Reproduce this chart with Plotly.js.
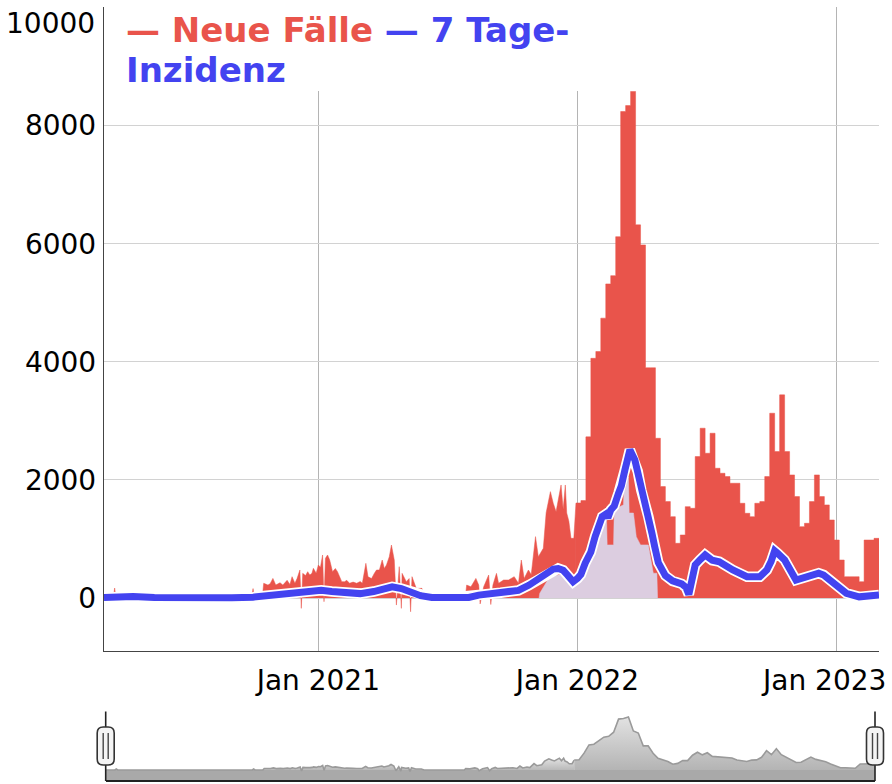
<!DOCTYPE html>
<html>
<head>
<meta charset="utf-8">
<script src="https://cdn.plot.ly/plotly-3.0.1.min.js"></script>
<style>html,body{margin:0;padding:0;background:#fff;}#chart{width:892px;height:784px;}</style>
</head>
<body>
<div id="chart"></div>
<script>
// ---------------- DATA ----------------
// Neue Fälle, part 1 (daily-ish, 2020 – Dec 2021)
const casesDatesA = ['2020-03-05','2020-03-18','2020-03-20','2020-03-22','2020-09-29','2020-10-01','2020-10-03','2020-10-14','2020-10-16','2020-10-22','2020-10-25','2020-10-29','2020-11-02','2020-11-08','2020-11-12','2020-11-18','2020-11-22','2020-11-25','2020-11-29','2020-12-02','2020-12-06','2020-12-08','2020-12-10','2020-12-14','2020-12-17','2020-12-20','2020-12-23','2020-12-25','2020-12-29','2021-01-01','2021-01-04','2021-01-07','2021-01-09','2021-01-11','2021-01-14','2021-01-17','2021-01-21','2021-01-25','2021-01-28','2021-02-01','2021-02-03','2021-02-07','2021-02-10','2021-02-14','2021-02-19','2021-02-24','2021-03-01','2021-03-04','2021-03-09','2021-03-12','2021-03-17','2021-03-21','2021-03-24','2021-03-28','2021-04-01','2021-04-04','2021-04-07','2021-04-11','2021-04-14','2021-04-18','2021-04-21','2021-04-25','2021-04-28','2021-04-29','2021-05-05','2021-05-09','2021-05-11','2021-05-13','2021-05-19','2021-05-27','2021-05-31','2021-07-27','2021-07-29','2021-08-04','2021-08-11','2021-08-15','2021-08-17','2021-08-22','2021-08-29','2021-09-01','2021-09-04','2021-09-09','2021-09-12','2021-09-19','2021-09-26','2021-10-04','2021-10-10','2021-10-14','2021-10-18','2021-10-24','2021-10-28','2021-11-03','2021-11-07','2021-11-14','2021-11-18','2021-11-24','2021-11-28','2021-12-02','2021-12-09','2021-12-12','2021-12-15','2021-12-17','2021-12-20','2021-12-23','2021-12-27','2021-12-30'];
const casesValuesA = [0,0,170,0,0,160,0,0,250,220,240,333,220,260,220,300,230,362,250,330,475,-175,418,380,446,390,418,503,420,559,520,729,-62,672,729,644,446,500,446,330,277,277,300,250,270,250,280,250,588,360,330,420,475,475,644,500,560,700,898,644,-119,531,-175,418,277,330,-232,362,164,164,0,0,220,190,333,220,-100,192,390,-110,220,418,250,305,305,362,250,644,330,475,400,1040,700,842,1446,1802,1605,1463,1915,1500,1915,1440,1300,1011,1011,1610];

// Neue Fälle, part 2 (weekly steps, Dec 2021 – Mar 2023)
const casesDatesB = ['2021-12-30','2022-01-06','2022-01-13','2022-01-20','2022-01-27','2022-02-03','2022-02-10','2022-02-17','2022-02-24','2022-03-03','2022-03-10','2022-03-17','2022-03-24','2022-03-31','2022-04-07','2022-04-14','2022-04-21','2022-04-28','2022-05-05','2022-05-12','2022-05-19','2022-05-26','2022-06-02','2022-06-09','2022-06-16','2022-06-23','2022-06-30','2022-07-07','2022-07-14','2022-07-21','2022-07-28','2022-08-04','2022-08-11','2022-08-18','2022-08-25','2022-09-01','2022-09-08','2022-09-15','2022-09-22','2022-09-29','2022-10-06','2022-10-13','2022-10-20','2022-10-27','2022-11-03','2022-11-10','2022-11-17','2022-11-24','2022-12-01','2022-12-08','2022-12-15','2022-12-22','2022-12-29','2023-01-05','2023-01-12','2023-01-19','2023-01-26','2023-02-02','2023-02-09','2023-02-16','2023-02-23','2023-03-02'];
const casesValuesB = [1610,1650,2730,4060,4175,4740,5320,5460,6120,8240,8340,8580,6320,5980,3900,3900,2706,1887,1633,1378,927,1068,1548,1520,2396,2876,2452,2791,2198,2113,2057,1944,1944,1605,1435,1378,1605,1633,2057,3130,2480,3441,2480,2085,1718,1209,1266,1633,2085,1718,1577,1322,983,644,361,361,361,277,983,983,1011,1011];

// shaded area under the incidence line (early 2022)
const shadeDates = ['2021-11-08','2021-11-09','2021-11-20','2021-12-01','2021-12-10','2021-12-20','2021-12-27','2022-01-10','2022-01-24','2022-02-07','2022-02-11','2022-02-12','2022-02-21','2022-02-22','2022-03-07','2022-03-08','2022-03-14','2022-03-15','2022-03-21','2022-03-25','2022-03-31','2022-04-11','2022-04-18','2022-04-23','2022-04-24'];
const shadeValues = [0,80,300,380,400,300,220,520,950,1300,1380,900,900,1500,1580,2050,2050,1440,1440,1040,900,900,420,420,0];

// 7 Tage-Inzidenz
const incDates = ['2020-03-05','2020-03-25','2020-04-15','2020-05-15','2020-07-01','2020-09-01','2020-10-01','2020-10-20','2020-11-10','2020-12-01','2020-12-20','2021-01-05','2021-01-20','2021-02-10','2021-03-01','2021-03-20','2021-04-05','2021-04-15','2021-04-28','2021-05-10','2021-05-25','2021-06-10','2021-07-01','2021-08-01','2021-08-15','2021-09-15','2021-10-10','2021-10-25','2021-11-05','2021-11-18','2021-11-28','2021-12-05','2021-12-12','2021-12-18','2021-12-26','2022-01-01','2022-01-06','2022-01-12','2022-01-20','2022-01-26','2022-02-01','2022-02-05','2022-02-10','2022-02-13','2022-02-17','2022-02-22','2022-02-28','2022-03-04','2022-03-09','2022-03-16','2022-03-23','2022-03-27','2022-04-01','2022-04-06','2022-04-11','2022-04-16','2022-04-20','2022-04-25','2022-05-05','2022-05-15','2022-05-28','2022-06-03','2022-06-07','2022-06-12','2022-06-16','2022-06-23','2022-06-30','2022-07-10','2022-07-20','2022-08-08','2022-08-28','2022-09-15','2022-09-25','2022-10-01','2022-10-06','2022-10-10','2022-10-20','2022-11-05','2022-11-23','2022-12-07','2022-12-14','2022-12-28','2023-01-15','2023-02-02','2023-02-20','2023-03-02'];
const incValues = [10,30,25,10,0,5,15,40,75,90,115,130,110,80,75,110,150,190,160,110,40,10,0,10,50,90,130,220,300,400,490,500,470,390,275,330,400,590,780,1040,1250,1380,1420,1360,1490,1560,1775,1900,2170,2510,2340,2150,1830,1650,1380,1100,870,600,380,290,240,180,60,400,560,650,730,640,615,475,360,360,475,620,800,760,645,305,360,420,390,250,80,20,50,50];

// axis labels
const yTickVals = [0,2000,4000,6000,8000,10000];
const yTickText = ['0','2000','4000','6000','8000',''];
const yTopLabel = '10000';
const xTickVals = ['2021-01-01','2022-01-01','2023-01-01'];
const xTickText = ['Jan 2021','Jan 2022',''];
const xLastLabel = 'Jan 2023';
const legendRed = '— Neue Fälle';
const legendBlue1 = '— 7 Tage-';
const legendBlue2 = 'Inzidenz';

// ---------------- STYLE ----------------
const RED = '#e9544b';
const BLUE = '#4343f0';
const W = 892, H = 784;
const M = {l:104, r:13, t:7, b:4};
const PW = W - M.l - M.r, PH = H - M.t - M.b;
const px = x => (x - M.l) / PW;          // pixel -> paper x
const py = y => (H - M.b - y) / PH;      // pixel -> paper y
const FONT = 'DejaVu Sans';

const traces = [
  {x: casesDatesA, y: casesValuesA, type:'scatter', mode:'lines', fill:'tozeroy',
   fillcolor: RED, line:{color:RED, width:0.5}, xaxis:'x', yaxis:'y', hoverinfo:'skip'},
  {x: casesDatesB, y: casesValuesB, type:'scatter', mode:'lines', fill:'tozeroy',
   fillcolor: RED, line:{color:RED, width:0.5, shape:'hv'}, xaxis:'x', yaxis:'y', hoverinfo:'skip'},
  {x: shadeDates, y: shadeValues, type:'scatter', mode:'lines', fill:'tozeroy',
   fillcolor:'#dccde0', line:{color:'#dccde0', width:0.5}, xaxis:'x', yaxis:'y', hoverinfo:'skip'},
  {x: incDates, y: incValues, type:'scatter', mode:'lines',
   line:{color:'#ffffff', width:10.5}, xaxis:'x', yaxis:'y', hoverinfo:'skip'},
  {x: incDates, y: incValues, type:'scatter', mode:'lines',
   line:{color:BLUE, width:7}, xaxis:'x', yaxis:'y', hoverinfo:'skip'},
  // range selector mini plot
  {x: casesDatesA, y: casesValuesA, type:'scatter', mode:'lines', fill:'tozeroy',
   fillcolor:'#c8c8c8', fillgradient:{type:'vertical', colorscale:[[0,'#b4b4b4'],[1,'#e2e2e2']]},
   line:{color:'#9a9a9a', width:1.6}, xaxis:'x2', yaxis:'y2', hoverinfo:'skip'},
  {x: casesDatesB, y: casesValuesB, type:'scatter', mode:'lines', fill:'tozeroy',
   fillcolor:'#c8c8c8', fillgradient:{type:'vertical', colorscale:[[0,'#b4b4b4'],[1,'#e2e2e2']]},
   line:{color:'#9a9a9a', width:1.6}, xaxis:'x2', yaxis:'y2', hoverinfo:'skip'}
];

function roundRect(x0, x1, y0, y1, r) {
  const rx = r / PW, ry = r / PH;
  const X0 = px(x0), X1 = px(x1), Yt = py(y0), Yb = py(y1);
  return `M ${X0+rx},${Yt} L ${X1-rx},${Yt} Q ${X1},${Yt} ${X1},${Yt-ry} L ${X1},${Yb+ry} Q ${X1},${Yb} ${X1-rx},${Yb} L ${X0+rx},${Yb} Q ${X0},${Yb} ${X0},${Yb+ry} L ${X0},${Yt-ry} Q ${X0},${Yt} ${X0+rx},${Yt} Z`;
}

const handleXs = [105.7, 875];
const shapes = [
  {type:'rect', xref:'paper', yref:'paper', x0:px(124), x1:px(732), y0:py(91), y1:py(-2),
   fillcolor:'#ffffff', line:{width:0}, layer:'above'},
  {type:'rect', xref:'paper', yref:'y2', x0:px(105.7), x1:px(875), y0:-1619, y1:0,
   fillcolor:'#a9a9a9', line:{width:0}, layer:'below'}
];
handleXs.forEach(hx => {
  shapes.push({type:'line', xref:'paper', yref:'paper', x0:px(hx), x1:px(hx), y0:py(711.5), y1:py(781),
    line:{color:'#222', width:1.6}, layer:'above'});
  shapes.push({type:'path', xref:'paper', yref:'paper', path: roundRect(hx-8.5, hx+8.5, 727, 765, 6),
    fillcolor:'#f4f4f4', line:{color:'#333', width:1.6}, layer:'above'});
  shapes.push({type:'line', xref:'paper', yref:'paper', x0:px(hx-2.5), x1:px(hx-2.5), y0:py(733), y1:py(759),
    line:{color:'#444', width:1.4}, layer:'above'});
  shapes.push({type:'line', xref:'paper', yref:'paper', x0:px(hx+2.5), x1:px(hx+2.5), y0:py(733), y1:py(759),
    line:{color:'#444', width:1.4}, layer:'above'});
});

const layout = {
  width: W, height: H,
  margin: M,
  paper_bgcolor:'#ffffff', plot_bgcolor:'#ffffff',
  showlegend:false,
  font:{family:FONT, size:28, color:'#000'},
  xaxis:{
    type:'date', range:['2020-03-05','2023-03-02'], domain:[0,1], anchor:'y',
    tickmode:'array', tickvals:xTickVals, ticktext:xTickText,
    showgrid:true, gridcolor:'#b4b4b4', gridwidth:1,
    showline:true, linecolor:'#444', linewidth:1.2,
    ticks:'', ticklabelstandoff:4, ticklabeloverflow:'allow',
    tickfont:{family:FONT, size:28, color:'#000'}, zeroline:false
  },
  yaxis:{
    range:[-897, 10010], domain:[py(651), 1], anchor:'x',
    tickmode:'array', tickvals:yTickVals, ticktext:yTickText,
    showgrid:true, gridcolor:'#d2d2d2', gridwidth:1,
    showline:true, linecolor:'#444', linewidth:1.2,
    ticks:'', ticklabelstandoff:1, zeroline:false, ticklabeloverflow:'allow',
    tickfont:{family:FONT, size:28, color:'#000'}
  },
  xaxis2:{
    type:'date', range:['2020-03-05','2023-03-02'], domain:[px(105.7), px(875)], anchor:'y2',
    showgrid:false, showticklabels:false, ticks:'', zeroline:false,
    showline:true, linecolor:'#222', linewidth:2
  },
  yaxis2:{
    range:[-1619, 9390], domain:[0, py(712)], anchor:'x2',
    showgrid:false, showticklabels:false, ticks:'', zeroline:false, showline:false
  },
  shapes: shapes,
  annotations:[
    {xref:'paper', yref:'paper', x:px(97), y:py(23), xanchor:'right', yanchor:'middle', showarrow:false,
     text: yTopLabel, font:{family:FONT, size:28, color:'#000'}},
    {xref:'paper', yref:'paper', x:px(888), y:py(680), xanchor:'right', yanchor:'middle', showarrow:false,
     text: xLastLabel, font:{family:FONT, size:28, color:'#000'}},
    {xref:'paper', yref:'paper', x:px(124), y:py(30), xanchor:'left', yanchor:'middle', showarrow:false, align:'left',
     text:`<span style="color:${RED}">${legendRed}</span> <span style="color:${BLUE}">${legendBlue1}</span>`,
     font:{family:FONT, size:34, weight:700}},
    {xref:'paper', yref:'paper', x:px(124), y:py(70), xanchor:'left', yanchor:'middle', showarrow:false, align:'left',
     text:`<span style="color:${BLUE}">${legendBlue2}</span>`,
     font:{family:FONT, size:34, weight:700}}
  ]
};

Plotly.newPlot('chart', traces, layout, {staticPlot:true, displayModeBar:false});
</script>
</body>
</html>
